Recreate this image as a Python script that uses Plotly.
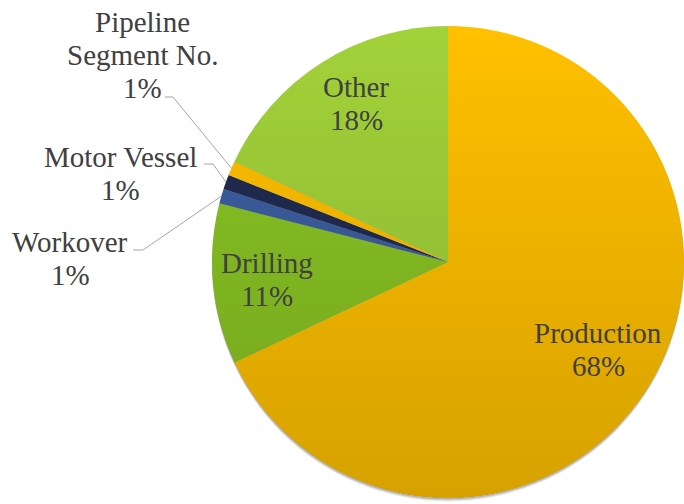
import base64
import math
import struct
import zlib

import plotly.graph_objects as go

# Share of incidents by operation type
labels = ["Production", "Drilling", "Workover", "Motor Vessel", "Pipeline Segment No.", "Other"]
values = [68, 11, 1, 1, 1, 18]
colors = ["#FFC000", "#8AC424", "#3D5EA0", "#202C52", "#FFC000", "#A2D23A"]
# slices labelled inside the pie vs. with call-outs
inside = ["Production", "Drilling", "Other"]

W, H = 684, 504
# pie geometry in pixels (origin top-left)
cx, cy, r = 448, 262, 236

FONT = "Liberation Serif"
TXT = "#404040"
FS = 29
LINE_GAP = 33  # px between stacked label lines


def px_domain(x0, x1, y0, y1):
    """Pixel box (top-left origin) -> plotly paper domain."""
    return dict(x=[max(0, x0 / W), min(1, x1 / W)],
                y=[max(0, 1 - y1 / H), min(1, 1 - y0 / H)])


def shade_png(size, a0, a1):
    """Round PNG of black with alpha going from a0 (top) to a1 (bottom)."""
    R = size / 2
    raw = bytearray()
    for y in range(size):
        a = a0 + (a1 - a0) * y / (size - 1)
        dy = y + 0.5 - R
        half = math.sqrt(max(0.0, R * R - dy * dy))
        raw.append(0)
        for x in range(size):
            dx = abs(x + 0.5 - R)
            cov = min(1.0, max(0.0, half - dx + 0.5))
            raw += bytes((0, 0, 0, int(255 * a * cov)))

    def chunk(tag, data):
        return (struct.pack(">I", len(data)) + tag + data
                + struct.pack(">I", zlib.crc32(tag + data) & 0xFFFFFFFF))

    png = (b"\x89PNG\r\n\x1a\n"
           + chunk(b"IHDR", struct.pack(">IIBBBBB", size, size, 8, 6, 0, 0, 0))
           + chunk(b"IDAT", zlib.compress(bytes(raw), 9))
           + chunk(b"IEND", b""))
    return "data:image/png;base64," + base64.b64encode(png).decode()


fig = go.Figure()

# soft drop shadow under the pie
for off, alpha in [(5, 0.07), (3, 0.10), (1.5, 0.14)]:
    fig.add_trace(go.Pie(
        values=[1], labels=["shadow"], sort=False,
        marker=dict(colors=[f"rgba(0,0,0,{alpha})"], line=dict(width=0)),
        domain=px_domain(cx - r, cx + r, cy - r - 4 + off, cy + r + 4 + off),
        textinfo="none", hoverinfo="skip", showlegend=False,
    ))

fig.add_trace(go.Pie(
    labels=labels, values=values, sort=False, direction="clockwise", rotation=0,
    marker=dict(colors=colors, line=dict(width=0)),
    domain=px_domain(cx - r, cx + r, cy - r - 4, cy + r + 4),
    textinfo="none", showlegend=False,
))

# vertical shading across the pie face
fig.add_layout_image(dict(
    source=shade_png(2 * r, 0.0, 0.16),
    xref="paper", yref="paper",
    x=(cx - r) / W, y=1 - (cy - r) / H,
    sizex=2 * r / W, sizey=2 * r / H,
    xanchor="left", yanchor="top", sizing="stretch", layer="above",
))

# label placement (centre x, centre y of first line) and call-out leader routing
label_pos = {
    "Production": dict(tx=598, ty=333),
    "Drilling": dict(tx=267, ty=263),
    "Other": dict(tx=356, ty=87),
    "Workover": dict(tx=70, ty=242, knee=(143, 250), end=(133, 250)),
    "Motor Vessel": dict(tx=120, ty=157, knee=(213, 164), end=(204, 164)),
    "Pipeline Segment No.": dict(tx=142, ty=22, knee=(173, 97), end=(165, 97)),
}
wrapped = {"Pipeline Segment No.": ["Pipeline", "Segment No."]}

total = sum(values)
cum = 0
for lab, v in zip(labels, values):
    mid = (cum + v / 2) / total * 2 * math.pi
    cum += v
    p = label_pos[lab]
    pct = round(v / total * 100)
    if lab not in inside:
        ex = cx + r * math.sin(mid)
        ey = cy - r * math.cos(mid)
        pts = [(ex, ey), p["knee"], p["end"]]
        path = "M " + " L ".join(f"{x / W},{1 - y / H}" for x, y in pts)
        fig.add_shape(type="path", xref="paper", yref="paper", path=path,
                      line=dict(color="#A6A6A6", width=1))
    lines = wrapped.get(lab, [lab]) + [f"{pct}%"]
    for k, line in enumerate(lines):
        fig.add_annotation(
            text=line, x=p["tx"] / W, y=1 - (p["ty"] + k * LINE_GAP) / H,
            xref="paper", yref="paper", xanchor="center", yanchor="middle",
            showarrow=False,
            font=dict(family=FONT, size=FS, color=TXT),
        )

fig.update_layout(
    width=W, height=H,
    margin=dict(l=0, r=0, t=0, b=0),
    paper_bgcolor="white", plot_bgcolor="white",
)

fig.write_html("out.html")
